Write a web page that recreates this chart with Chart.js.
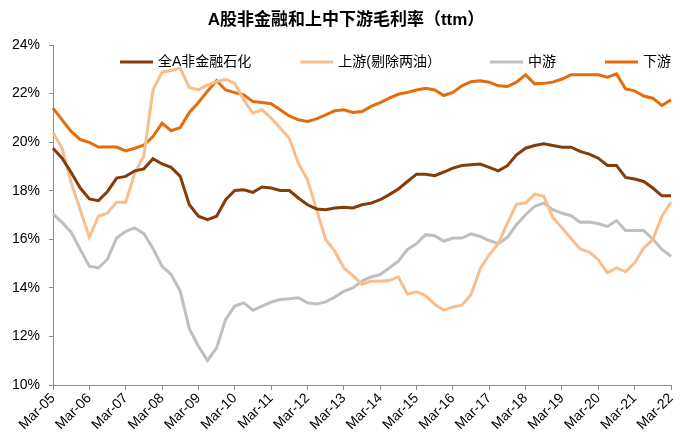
<!DOCTYPE html>
<html>
<head>
<meta charset="utf-8">
<script src="https://cdn.jsdelivr.net/npm/chart.js@4"></script>
<style>
  html, body { margin: 0; padding: 0; background: #fff; }
  #wrap { width: 695px; height: 442px; }
</style>
</head>
<body>
<div id="wrap"><canvas id="marginChart" width="695" height="442"></canvas></div>
<script>
// Tick labels (one per year, March quarter)
const tickLabels = ['Mar-05', 'Mar-06', 'Mar-07', 'Mar-08', 'Mar-09', 'Mar-10', 'Mar-11', 'Mar-12', 'Mar-13',
    'Mar-14', 'Mar-15', 'Mar-16', 'Mar-17', 'Mar-18', 'Mar-19', 'Mar-20', 'Mar-21', 'Mar-22'];

// Quarterly categories Mar-05 .. Mar-22
const quarters = [];
tickLabels.forEach((t, i) => {
    const yy = t.slice(4);
    quarters.push('Mar-' + yy);
    if (i < tickLabels.length - 1) quarters.push('Jun-' + yy, 'Sep-' + yy, 'Dec-' + yy);
});

const seriesNames = ['全A非金融石化', '上游(剔除两油）', '中游', '下游'];

// gross margin, %
const allA = [19.75, 19.34, 18.75, 18.11, 17.66, 17.59, 17.97, 18.52, 18.59, 18.82, 18.90, 19.32, 19.10, 18.96,
    18.59, 17.42, 16.95, 16.81, 16.95, 17.63, 18.01, 18.04, 17.93, 18.15, 18.11, 18.01, 18.01, 17.70, 17.42,
    17.25, 17.22, 17.29, 17.32, 17.29, 17.42, 17.49, 17.63, 17.84, 18.07, 18.38, 18.68, 18.68, 18.62, 18.77,
    18.93, 19.04, 19.07, 19.10, 18.96, 18.82, 19.03, 19.48, 19.75, 19.86, 19.93, 19.86, 19.79, 19.79, 19.62,
    19.51, 19.34, 19.04, 19.04, 18.55, 18.48, 18.38, 18.11, 17.79, 17.79];

const upstream = [20.40, 19.75, 18.32, 17.22, 16.08, 16.95, 17.08, 17.53, 17.53, 18.73, 19.44, 22.15, 22.88,
    22.95, 23.04, 22.25, 22.15, 22.36, 22.49, 22.59, 22.42, 21.74, 21.19, 21.33, 20.99, 20.58, 20.16, 19.14,
    18.45, 17.22, 15.99, 15.51, 14.82, 14.50, 14.15, 14.27, 14.27, 14.30, 14.45, 13.75, 13.84, 13.68, 13.32,
    13.08, 13.21, 13.29, 13.73, 14.78, 15.37, 15.82, 16.67, 17.45, 17.49, 17.86, 17.77, 16.90, 16.47, 16.03,
    15.60, 15.47, 15.16, 14.62, 14.82, 14.66, 15.03, 15.64, 15.99, 16.95, 17.52];

const midstream = [17.05, 16.70, 16.29, 15.58, 14.89, 14.82, 15.19, 16.05, 16.33, 16.47, 16.23, 15.62, 14.89,
    14.55, 13.86, 12.32, 11.60, 11.01, 11.53, 12.70, 13.25, 13.38, 13.08, 13.25, 13.41, 13.52, 13.55, 13.59,
    13.38, 13.34, 13.42, 13.62, 13.86, 14.00, 14.28, 14.45, 14.55, 14.82, 15.10, 15.58, 15.82, 16.19, 16.15,
    15.92, 16.05, 16.05, 16.22, 16.12, 15.95, 15.82, 16.08, 16.60, 17.01, 17.36, 17.49, 17.22, 17.08, 16.97,
    16.70, 16.71, 16.64, 16.53, 16.77, 16.36, 16.36, 16.36, 16.01, 15.58, 15.30];

const downstream = [21.40, 20.92, 20.44, 20.10, 19.99, 19.80, 19.80, 19.80, 19.64, 19.75, 19.88, 20.23, 20.78,
    20.47, 20.60, 21.22, 21.63, 22.10, 22.53, 22.15, 22.04, 21.95, 21.67, 21.63, 21.58, 21.33, 21.08, 20.92,
    20.85, 20.96, 21.12, 21.29, 21.33, 21.22, 21.26, 21.47, 21.63, 21.81, 21.97, 22.05, 22.15, 22.22, 22.15,
    21.92, 22.05, 22.32, 22.49, 22.53, 22.47, 22.32, 22.29, 22.47, 22.77, 22.40, 22.42, 22.47, 22.60, 22.77,
    22.77, 22.77, 22.77, 22.67, 22.81, 22.19, 22.11, 21.90, 21.81, 21.51, 21.74];

const colors = ['#843C0C', '#F8BE8E', '#BFBFBF', '#E46C0A'];
const FONT = '"Liberation Sans", Arial, "Noto Sans CJK SC", sans-serif';
const AXIS_COLOR = '#8C8C8C';

// title + in-plot legend
const overlayPlugin = {
    id: 'overlay',
    afterDraw(chart) {
        const ctx = chart.ctx;
        ctx.save();
        ctx.fillStyle = '#000';
        ctx.textBaseline = 'middle';
        ctx.textAlign = 'center';
        ctx.font = 'bold 17px ' + FONT;
        ctx.fillText('A股非金融和上中下游毛利率（ttm）', 346, 20);

        ctx.font = '14px ' + FONT;
        ctx.textAlign = 'left';
        let x = 120;
        const y = 62;
        chart.data.datasets.forEach(ds => {
            ctx.strokeStyle = ds.borderColor;
            ctx.lineWidth = 3;
            ctx.beginPath();
            ctx.moveTo(x, y);
            ctx.lineTo(x + 33, y);
            ctx.stroke();
            ctx.fillStyle = '#000';
            ctx.fillText(ds.label, x + 38, y);
            x += 38 + ctx.measureText(ds.label).width + 49;
        });
        ctx.restore();
    }
};

const series = [allA, upstream, midstream, downstream];

new Chart(document.getElementById('marginChart').getContext('2d'), {
    type: 'line',
    data: {
        labels: quarters,
        datasets: series.map((d, i) => ({
            label: seriesNames[i],
            data: d,
            borderColor: colors[i],
            backgroundColor: colors[i],
            borderWidth: 3,
            pointRadius: 0,
            tension: 0,
            fill: false
        }))
    },
    options: {
        responsive: false,
        animation: false,
        devicePixelRatio: 1,
        layout: { autoPadding: false, padding: { top: 45, right: 24, left: 0, bottom: 0 } },
        plugins: {
            legend: { display: false },
            title: { display: false },
            tooltip: { enabled: false }
        },
        scales: {
            x: {
                type: 'category',
                offset: false,
                afterFit(scale) { scale.height = 57; },
                border: { display: true, color: AXIS_COLOR, width: 1 },
                grid: {
                    drawOnChartArea: false,
                    drawTicks: true,
                    tickLength: 5,
                    color: ctx => (ctx.index % 4 === 0 ? AXIS_COLOR : 'rgba(0,0,0,0)')
                },
                ticks: {
                    autoSkip: false,
                    maxRotation: 45,
                    minRotation: 45,
                    padding: 0,
                    color: '#000',
                    font: { family: FONT, size: 14 },
                    callback(value, index) {
                        const lab = quarters[index];
                        return tickLabels.includes(lab) ? lab : '';
                    }
                }
            },
            y: {
                min: 10,
                max: 24,
                afterFit(scale) { scale.width = 53; },
                border: { display: true, color: AXIS_COLOR, width: 1 },
                grid: {
                    drawOnChartArea: false,
                    drawTicks: true,
                    tickLength: 4,
                    color: AXIS_COLOR
                },
                ticks: {
                    stepSize: 2,
                    padding: 9,
                    color: '#000',
                    font: { family: FONT, size: 14 },
                    callback: v => v + '%'
                }
            }
        }
    },
    plugins: [overlayPlugin]
});
</script>
</body>
</html>
